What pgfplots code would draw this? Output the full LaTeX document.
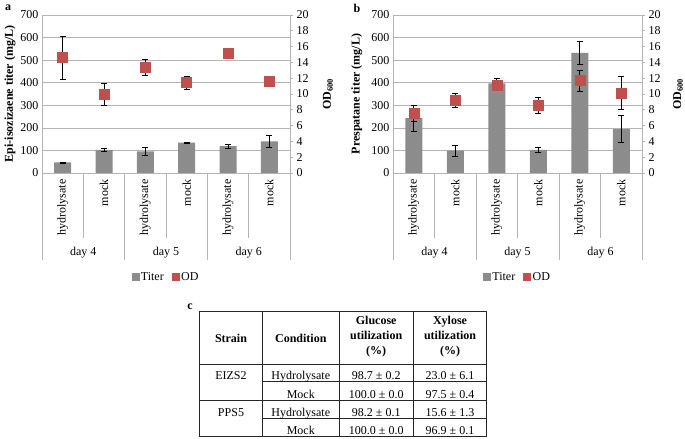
\documentclass[border=0pt]{standalone}
\usepackage{fontspec}
\setmainfont{Liberation Serif}
\usepackage{pgfplots}
\pgfplotsset{compat=1.18}
\definecolor{barcolor}{HTML}{8C8C8C}
\definecolor{odred}{HTML}{C0504D}
\definecolor{gridc}{HTML}{B4B4B4}
\newcommand{\fs}{\fontsize{12bp}{14bp}\selectfont}
\pgfplotsset{
  basestyle/.style={
    scale only axis, height=158bp, xmin=-0.5, xmax=5.5, clip=false,
    tick label style={font=\fs},
    label style={font=\fs\bfseries},
    /pgf/number format/assume math mode=true,
  },
  leftstyle/.style={basestyle, ymin=0, ymax=700, ytick={0,100,...,700},
    ymajorgrids, grid style={gridc, line width=0.6bp},
    axis x line*=bottom, axis y line*=left, axis line style={gridc, line width=0.6bp},
    xtick={0,...,5}, xticklabels={hydrolysate,mock,hydrolysate,mock,hydrolysate,mock},
    x tick label style={rotate=90,anchor=east}, xticklabel shift=3bp,
    major tick length=0pt, tick style={draw=none}},
  rightstyle/.style={basestyle, ymin=0, ymax=20, ytick={0,2,...,20},
    axis x line=none, axis y line*=right, axis line style={gridc, line width=0.6bp},
    tick align=outside, major tick length=3bp, ytick style={gridc, line width=0.6bp},
    ylabel={OD\textsubscript{600}},
    legend style={at={(axis description cs:0.5,-0.658)}, anchor=center, draw=none, fill=none,
      font=\fs, legend columns=2, /tikz/every even column/.append style={column sep=6bp}}},
  barplot/.style={ybar, bar width=17bp, bar shift=0pt, fill=barcolor, draw=none,
    error bars/.cd, y dir=both, y explicit,
    error bar style={black, line width=0.6bp},
    error mark options={rotate=90, mark size=3bp, black, line width=0.6bp}},
  oderr/.style={only marks, mark=none, forget plot,
    error bars/.cd, y dir=both, y explicit,
    error bar style={black, line width=0.6bp},
    error mark options={rotate=90, mark size=3bp, black, line width=0.6bp}},
  odmarks/.style={only marks, mark=square*, mark size=5bp, color=odred, forget plot},
}
\newcommand{\sepline}[2]{\draw[gridc, line width=0.6bp] (axis cs:#1,0) -- ([yshift=-#2]axis cs:#1,0);}
\newcommand{\seps}{%
  \sepline{-0.5}{87bp}\sepline{1.5}{87bp}\sepline{3.5}{87bp}\sepline{5.5}{87bp}
  \sepline{0.5}{65bp}\sepline{2.5}{65bp}\sepline{4.5}{65bp}
  \node[font=\fs] at ([yshift=-80bp]axis cs:0.5,0) {day 4};
  \node[font=\fs] at ([yshift=-80bp]axis cs:2.5,0) {day 5};
  \node[font=\fs] at ([yshift=-80bp]axis cs:4.5,0) {day 6};
}
\newcommand{\legimgs}{%
  \addlegendimage{legend image code/.code={\fill[barcolor] (0bp,-3.5bp) rectangle (7bp,3.5bp);}}
  \addlegendentry{Titer}
  \addlegendimage{legend image code/.code={\fill[odred] (0bp,-3.5bp) rectangle (7bp,3.5bp);}}
  \addlegendentry{OD}
}
\begin{document}
\begin{tikzpicture}[x=1bp,y=1bp]
\path[use as bounding box] (0,0) rectangle (685,439);
% ---------------- panel a
\begin{axis}[leftstyle, width=248bp, at={(42bp,266bp)}, anchor=south west,
  ylabel={Epi-isozizaene titer (mg/L)},
  ylabel style={at={(axis description cs:-0.129,0.5)}, anchor=center}]
\addplot[barplot] coordinates {
 (0,47) +- (0,2)
 (1,102) +- (0,8)
 (2,96) +- (0,16)
 (3,134) +- (0,2)
 (4,119) +- (0,10)
 (5,140) +- (0,25)
};
\seps
\end{axis}
\begin{axis}[rightstyle, width=248bp, at={(42bp,266bp)}, anchor=south west,
  ylabel style={at={(axis description cs:1.153,0.5)}, anchor=center}]
\legimgs
\addplot[oderr] coordinates {
 (0,14.6) +- (0,2.7)
 (1,9.95) +- (0,1.4)
 (2,13.4) +- (0,1.05)
 (3,11.45) +- (0,0.8)
 (4,15.2) +- (0,0)
 (5,11.6) +- (0,0)
};
\addplot[odmarks] coordinates {(0,14.6) (1,9.95) (2,13.4) (3,11.45) (4,15.2) (5,11.6)};
\end{axis}
% ---------------- panel b
\begin{axis}[leftstyle, width=249bp, at={(393bp,266bp)}, anchor=south west,
  ylabel={Prespatane titer (mg/L)},
  ylabel style={at={(axis description cs:-0.145,0.5)}, anchor=center}]
\addplot[barplot] coordinates {
 (0,243) +- (0,58)
 (1,99) +- (0,24)
 (2,397) +- (0,22)
 (3,102) +- (0,12)
 (4,532) +- (0,52)
 (5,194) +- (0,60)
};
\seps
\end{axis}
\begin{axis}[rightstyle, width=249bp, at={(393bp,266bp)}, anchor=south west,
  ylabel style={at={(axis description cs:1.145,0.5)}, anchor=center}]
\legimgs
\addplot[oderr] coordinates {
 (0,7.6) +- (0,1.0)
 (1,9.2) +- (0,0.9)
 (2,11.1) +- (0,0.6)
 (3,8.6) +- (0,1.0)
 (4,11.7) +- (0,1.3)
 (5,10.1) +- (0,2.1)
};
\addplot[odmarks] coordinates {(0,7.6) (1,9.2) (2,11.1) (3,8.6) (4,11.7) (5,10.1)};
\end{axis}
% panel letters
\node[font=\fs\bfseries] at (8,431) {a};
\node[font=\fs\bfseries] at (357,431) {b};
\node[font=\fs\bfseries] at (190,132) {c};
% ---------------- table c
\begin{scope}[black!85, line width=0.6bp]
\draw (199.3,2.3) rectangle (486.7,127.3);
\draw (199.3,75) -- (486.7,75);
\draw (199.3,38.3) -- (486.7,38.3);
\draw (262.7,57.3) -- (486.7,57.3);
\draw (262.7,20.7) -- (486.7,20.7);
\draw (262.7,2.3) -- (262.7,127.3);
\draw (339,2.3) -- (339,127.3);
\draw (413.3,2.3) -- (413.3,127.3);
\end{scope}
\begin{scope}[every node/.style={font=\fs, inner sep=0pt}]
\node[font=\fs\bfseries] at (231,101) {Strain};
\node[font=\fs\bfseries] at (300.8,101) {Condition};
\node[font=\fs\bfseries, align=center] at (376.2,102) {Glucose\\[1bp]utilization\\[1bp](\%)};
\node[font=\fs\bfseries, align=center] at (450,102) {Xylose\\[1bp]utilization\\[1bp](\%)};
\node[anchor=base] at (231,59) {EIZS2};
\node[anchor=base] at (231,22.5) {PPS5};
\node[anchor=base] at (300.8,59) {Hydrolysate};
\node[anchor=base] at (300.8,40.5) {Mock};
\node[anchor=base] at (300.8,22.5) {Hydrolysate};
\node[anchor=base] at (300.8,4) {Mock};
\node[anchor=base] at (376.2,59) {98.7 ± 0.2};
\node[anchor=base] at (376.2,40.5) {100.0 ± 0.0};
\node[anchor=base] at (376.2,22.5) {98.2 ± 0.1};
\node[anchor=base] at (376.2,4) {100.0 ± 0.0};
\node[anchor=base] at (450,59) {23.0 ± 6.1};
\node[anchor=base] at (450,40.5) {97.5 ± 0.4};
\node[anchor=base] at (450,22.5) {15.6 ± 1.3};
\node[anchor=base] at (450,4) {96.9 ± 0.1};
\end{scope}
\end{tikzpicture}
\end{document}
